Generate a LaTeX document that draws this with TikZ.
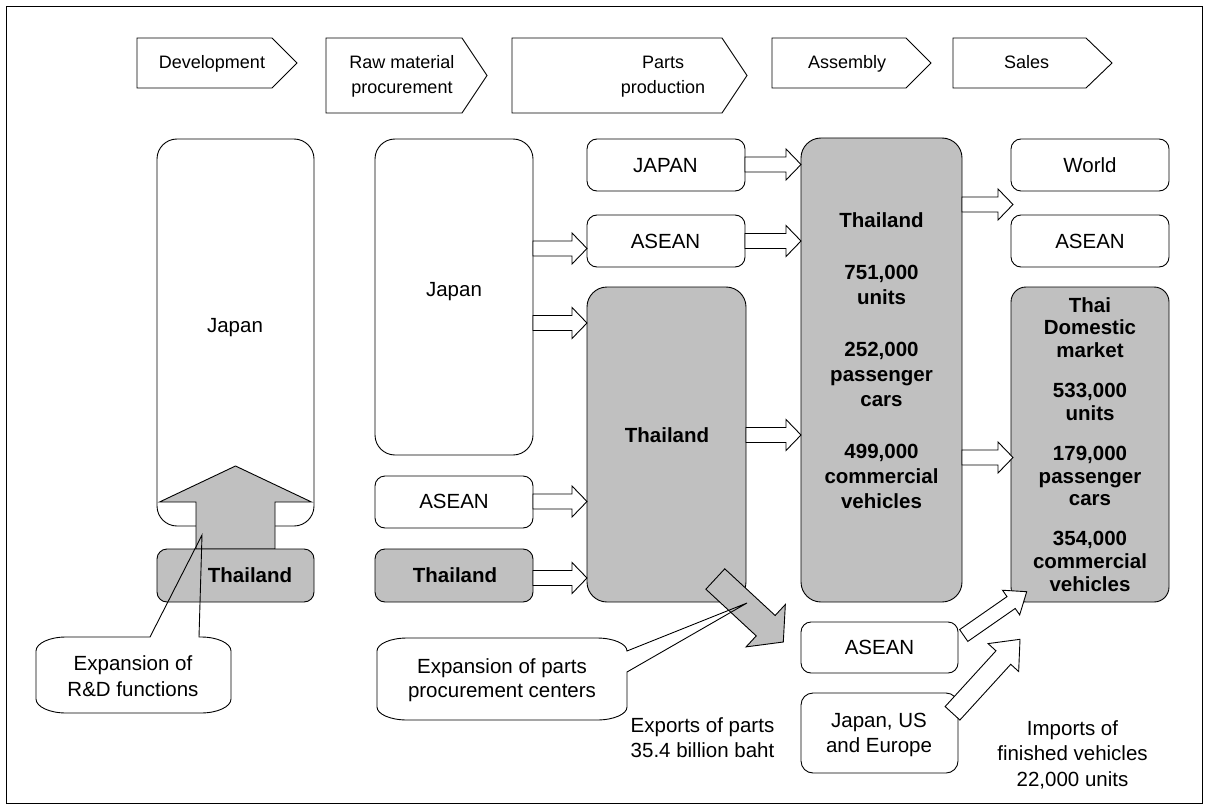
\documentclass[tikz,border=0pt]{standalone}
\usepackage{fontspec}
\setmainfont{Liberation Sans}
\usetikzlibrary{calc}
\definecolor{boxgray}{HTML}{C0C0C0}
\newcommand\ml[1]{\begin{tabular}[t]{@{}c@{}}#1\end{tabular}}
% block arrow: [opts]{tail}{tip}{shaft half width}{head half width}{head length}
\newcommand\blockarrow[6][]{%
  \coordinate (barC) at ($#3!#6!#2$);
  \draw[barr,#1] ($#2!#4!90:#3$) -- ($(barC)!#4!90:#3$) -- ($(barC)!#5!90:#3$) -- #3
     -- ($(barC)!#5!-90:#3$) -- ($(barC)!#4!-90:#3$) -- ($#2!#4!-90:#3$) -- cycle;}
% rounded box from corners: [opts]{name}{x1}{y1}{x2}{y2}
\newcommand\rbox[6][]{\node[bx,#1,minimum width={(#5-#3)*1pt},minimum height={(#6-#4)*1pt}]
  (#2) at ({(#3+#5)/2},{(#4+#6)/2}) {};}
\begin{document}
\begin{tikzpicture}[x=1pt,y=-1pt,
  bx/.style={draw, line width=0.9pt, rounded corners=10pt, fill=white, inner sep=0pt, outer sep=0pt},
  bigbx/.style={rounded corners=20pt},
  gr/.style={fill=boxgray},
  barr/.style={draw, line width=0.9pt, fill=white, line join=miter},
  garr/.style={fill=boxgray},
  hdr/.style={draw, line width=0.9pt, line join=miter},
  cl/.style={draw, line width=0.9pt},
  ht/.style={anchor=base, inner sep=0pt, font=\fontsize{18}{25}\selectfont},
  tx/.style={anchor=base, inner sep=0pt, font=\fontsize{20.5}{25}\selectfont},
  bt/.style={anchor=base, inner sep=0pt, font=\fontsize{20.5}{25}\selectfont\bfseries},
]
\useasboundingbox (0,0) rectangle (1209,805);
\draw[line width=1pt] (6.5,6.5) rectangle (1202.5,803);

% headers
\draw[hdr] (137,38) -- (272,38) -- (297,63) -- (272,88) -- (137,88) -- cycle;
\draw[hdr] (326,38) -- (462,38) -- (487,75.5) -- (462,113) -- (326,113) -- cycle;
\draw[hdr] (512,38) -- (722,38) -- (747,75.5) -- (722,113) -- (512,113) -- cycle;
\draw[hdr] (772,38) -- (906,38) -- (931,63) -- (906,88) -- (772,88) -- cycle;
\draw[hdr] (953,38) -- (1086,38) -- (1112,63) -- (1086,88) -- (953,88) -- cycle;
\node[ht] (hdev) at (212,69) {Development};
\node[ht] (hraw) at (402,69) {\ml{Raw material\\procurement}};
\node[ht] (hparts) at (663,69) {\ml{Parts\\production}};
\node[ht] (hasm) at (847,69) {Assembly};
\node[ht] (hsales) at (1026.5,69) {Sales};

% boxes
\rbox[bigbx]{devjapan}{157}{139}{314}{526}
\rbox[bigbx]{rawjapan}{375}{139}{533}{455}
\rbox{rawasean}{375}{476}{533}{528}
\rbox[gr]{rawthai}{375}{549}{533}{602}
\rbox{partsjapan}{587}{139}{745}{191}
\rbox{partsasean}{587}{215}{745}{267}
\rbox[bigbx,gr]{partsthai}{587}{287}{746}{602}
\rbox[bigbx,gr]{asm}{801}{138}{962}{602}
\rbox{world}{1011}{139}{1169}{191}
\rbox{salesasean}{1011}{215}{1169}{267}
\rbox[gr,rounded corners=15pt]{thaidom}{1011}{287}{1169}{602}
\rbox{impasean}{801}{622}{958}{673}
\rbox[rounded corners=12pt]{impjue}{801}{693}{958}{773}

% big up arrow (R&D)
\coordinate (upS) at (235.5,549);
\coordinate (upE) at ($(devjapan.south)+(0,-60)$);
\blockarrow[garr]{(upS)}{(upE)}{39.5pt}{76pt}{36pt}
\rbox[gr]{devthai}{157}{549}{314}{602}

% horizontal arrows
\coordinate (y1) at (0,248.5);
\coordinate (y2) at (0,323);
\coordinate (y3) at (0,501.5);
\coordinate (y4) at (0,578);
\coordinate (y5) at (0,164.5);
\coordinate (y6) at (0,241);
\coordinate (y7) at (0,435);
\coordinate (y8) at (0,204.5);
\coordinate (y9) at (0,457.5);
\coordinate (a1s) at (rawjapan.east|-y1);   \coordinate (a1e) at (partsasean.west|-y1);
\coordinate (a2s) at (rawjapan.east|-y2);   \coordinate (a2e) at (partsthai.west|-y2);
\coordinate (a3s) at (rawasean.east|-y3);   \coordinate (a3e) at (partsthai.west|-y3);
\coordinate (a4s) at (rawthai.east|-y4);    \coordinate (a4e) at (partsthai.west|-y4);
\coordinate (a5s) at (partsjapan.east|-y5); \coordinate (a5e) at (asm.west|-y5);
\coordinate (a6s) at (partsasean.east|-y6); \coordinate (a6e) at (asm.west|-y6);
\coordinate (a7s) at (partsthai.east|-y7);  \coordinate (a7e) at (asm.west|-y7);
\coordinate (a8s) at (asm.east|-y8);        \coordinate (a8e) at ($(world.west|-y8)+(2,0)$);
\coordinate (a9s) at (asm.east|-y9);        \coordinate (a9e) at ($(thaidom.west|-y9)+(2,0)$);
\foreach \i in {1,...,9}{\blockarrow{(a\i s)}{(a\i e)}{7.5pt}{15.5pt}{15pt}}

% diagonal arrows
\coordinate (g1s) at ($(partsthai.south east)+(-30.7,-23)$);
\coordinate (g1e) at (783.3,642);
\blockarrow[garr]{(g1s)}{(g1e)}{13.9pt}{28.9pt}{24pt}
\coordinate (d1s) at ($(impasean.east)+(5.7,-12)$);
\coordinate (d1e) at ($(thaidom.south west)+(15.7,-10.3)$);
\blockarrow{(d1s)}{(d1e)}{7.2pt}{15pt}{19pt}
\coordinate (d2s) at ($(impjue.north east)+(-5.5,20.3)$);
\coordinate (d2e) at (1020,639.3);
\blockarrow{(d2s)}{(d2e)}{10pt}{20.7pt}{24.7pt}

% callout 1
\coordinate (c1tip) at (202,535);
\fill[white] (66,637) -- (201,637) .. controls (217.5,637) and (231,643.3) .. (231,651) -- (231,699) .. controls (231,706.7) and (217.5,713) .. (201,713) -- (66,713) .. controls (49.5,713) and (36,706.7) .. (36,699) -- (36,651) .. controls (36,643.3) and (49.5,637) .. (66,637) -- cycle;
\draw[cl] (199,637) -- (201,637) .. controls (217.5,637) and (231,643.3) .. (231,651) -- (231,699) .. controls (231,706.7) and (217.5,713) .. (201,713) -- (66,713) .. controls (49.5,713) and (36,706.7) .. (36,699) -- (36,651) .. controls (36,643.3) and (49.5,637) .. (66,637) -- (150,637) -- (c1tip) -- cycle;
% callout 2
\coordinate (c2tip) at (747,603);
\fill[white] (407,638) -- (597,638) .. controls (613.5,638) and (627,643.9) .. (627,651) -- (627,707) .. controls (627,714.2) and (613.5,720) .. (597,720) -- (407,720) .. controls (390.5,720) and (377,714.2) .. (377,707) -- (377,651) .. controls (377,643.9) and (390.5,638) .. (407,638) -- cycle;
\draw[cl] (627,672) -- (627,707) .. controls (627,714.2) and (613.5,720) .. (597,720) -- (407,720) .. controls (390.5,720) and (377,714.2) .. (377,707) -- (377,651) .. controls (377,643.9) and (390.5,638) .. (407,638) -- (597,638) .. controls (613.5,638) and (627,643.9) .. (627,651) -- (c2tip) -- cycle;

% texts
\node[tx] (devjapanT) at (235,332) {Japan};
\node[bt] (devthaiT) at (250,582) {Thailand};
\node[tx] (rawjapanT) at (454,296) {Japan};
\node[tx] (rawaseanT) at (454,508.5) {ASEAN};
\node[bt] (rawthaiT) at (455,582) {Thailand};
\node[tx] (partsjapanT) at (665.5,172) {JAPAN};
\node[tx] (partsaseanT) at (665.5,248) {ASEAN};
\node[bt] (partsthaiT) at (667,442) {Thailand};
\node[bt] (asmT) at (881.5,227) {\ml{Thailand\\[27pt]751,000\\units\\[27pt]252,000\\passenger\\cars\\[27pt]499,000\\commercial\\vehicles}};
\node[tx] (worldT) at (1090,172) {World};
\node[tx] (salesaseanT) at (1090,248) {ASEAN};
\node[bt,font=\fontsize{20.5}{22.6}\selectfont\bfseries] (thaidomT) at (1090,312.3) {\ml{Thai\\Domestic\\market\\[17.6pt]533,000\\units\\[17.6pt]179,000\\passenger\\cars\\[17.6pt]354,000\\commercial\\vehicles}};
\node[tx] (impaseanT) at (879.5,654) {ASEAN};
\node[tx] (impjueT) at (879,727) {\ml{Japan, US\\and Europe}};
\node[tx] (exportsT) at (702.5,732) {\ml{Exports of parts\\35.4 billion baht}};
\node[tx,font=\fontsize{20.5}{25.8}\selectfont] (importsT) at (1072.5,735) {\ml{Imports of\\finished vehicles\\22,000 units}};
\node[tx,font=\fontsize{20.5}{26}\selectfont] (call1T) at (133,670) {\ml{Expansion of\\R\&D functions}};
\node[tx,font=\fontsize{20.5}{24}\selectfont] (call2T) at (502,673) {\ml{Expansion of parts\\procurement centers}};
\end{tikzpicture}
\end{document}
